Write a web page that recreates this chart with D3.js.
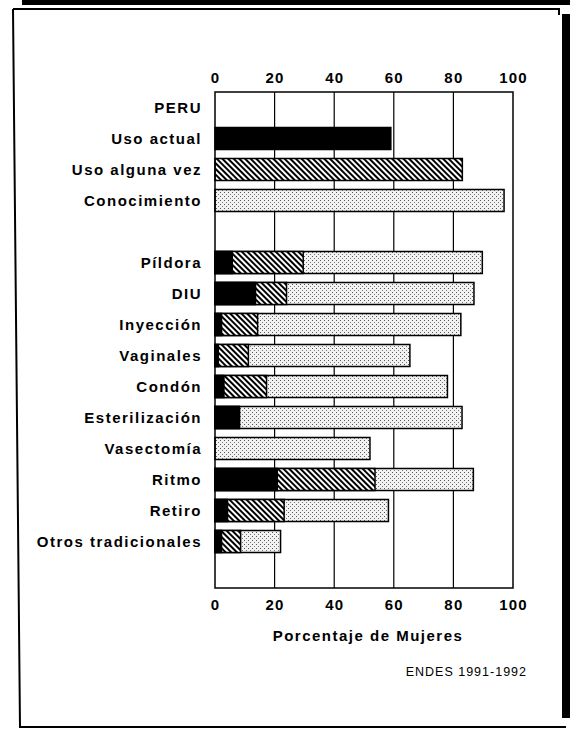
<!DOCTYPE html>
<html>
<head>
<meta charset="utf-8">
<script src="https://cdn.jsdelivr.net/npm/d3@7"></script>
<style>
  body { margin: 0; background: white; }
  svg text { font-family: "Liberation Sans", Arial, sans-serif; }
</style>
</head>
<body>
<script>
// rows of the chart, blank strings are spacer rows
var rowLabels = ["PERU", "Uso actual", "Uso alguna vez", "Conocimiento", "",
  "Píldora", "DIU", "Inyección", "Vaginales", "Condón", "Esterilización",
  "Vasectomía", "Ritmo", "Retiro", "Otros tradicionales", ""];

// summary rows for Peru
var resumen = ["Uso actual", "Uso alguna vez", "Conocimiento"];
var resumenValores = [59, 83, 97];

// by method: current use, ever used, knowledge (percent of women)
var metodos = ["Píldora", "DIU", "Inyección", "Vaginales", "Condón", "Esterilización",
  "Vasectomía", "Ritmo", "Retiro", "Otros tradicionales"];
var usoActual = [5.8, 13.6, 2.2, 1.1, 3.0, 8.2, 0, 20.9, 4.2, 2.2];
var usoAlgunaVez = [29.6, 24.0, 14.3, 11.2, 17.3, 8.2, 0, 53.7, 23.2, 8.6];
var conocimiento = [89.7, 86.9, 82.5, 65.4, 78.0, 82.9, 52.0, 86.7, 58.2, 22.0];

var ticks = [0, 20, 40, 60, 80, 100];

var W = 570, H = 730;
var plot = {left: 215, right: 513, top: 92, bottom: 588};

var svg = d3.select("body").append("svg")
  .attr("width", W)
  .attr("height", H);

// patterns
var defs = svg.append("defs");
var hatch = defs.append("pattern")
  .attr("id", "hatch")
  .attr("patternUnits", "userSpaceOnUse")
  .attr("width", 4).attr("height", 4)
  .attr("patternTransform", "rotate(-45)");
hatch.append("rect").attr("width", 4).attr("height", 4).attr("fill", "white");
hatch.append("rect").attr("width", 2).attr("height", 4).attr("fill", "black");

var dots = defs.append("pattern")
  .attr("id", "dots")
  .attr("patternUnits", "userSpaceOnUse")
  .attr("width", 4).attr("height", 4);
dots.append("rect").attr("width", 4).attr("height", 4).attr("fill", "#f2f2f2");
dots.append("rect").attr("x", 0).attr("y", 0).attr("width", 1).attr("height", 1).attr("fill", "#555");
dots.append("rect").attr("x", 2).attr("y", 2).attr("width", 1).attr("height", 1).attr("fill", "#777");

// page frame (scanned look)
svg.append("rect").attr("x", 22).attr("y", 0).attr("width", 548).attr("height", 5).attr("fill", "black");
svg.append("rect").attr("x", 562).attr("y", 14).attr("width", 8).attr("height", 704).attr("fill", "black");
svg.append("path")
  .attr("d", "M13,9 L559,9 L559,15 M13,9 L20,727 L566,727")
  .attr("fill", "none")
  .attr("stroke", "black")
  .attr("stroke-width", 2);

var x = d3.scaleLinear().domain([0, 100]).range([plot.left, plot.right]);
var y = d3.scaleBand()
  .domain(d3.range(rowLabels.length))
  .range([plot.top, plot.bottom])
  .paddingInner(0.29)
  .paddingOuter(0.145);

var rowIndex = function(name) { return rowLabels.indexOf(name); };

// grid lines
svg.append("g").selectAll("line")
  .data(ticks.slice(1, -1))
  .enter().append("line")
  .attr("x1", function(d) { return x(d); })
  .attr("x2", function(d) { return x(d); })
  .attr("y1", plot.top)
  .attr("y2", plot.bottom)
  .attr("stroke", "black")
  .attr("stroke-width", 1.2);

// bars
var bars = svg.append("g");
var barStyle = function(sel) {
  sel.attr("stroke", "black").attr("stroke-width", 1.5);
};

var fills = ["black", "url(#hatch)", "url(#dots)"];
resumen.forEach(function(name, i) {
  bars.append("rect")
    .attr("x", x(0))
    .attr("y", y(rowIndex(name)))
    .attr("width", x(resumenValores[i]) - x(0))
    .attr("height", y.bandwidth())
    .attr("fill", fills[i])
    .call(barStyle);
});

metodos.forEach(function(name, i) {
  var layers = [[conocimiento[i], "url(#dots)"], [usoAlgunaVez[i], "url(#hatch)"], [usoActual[i], "black"]];
  layers.forEach(function(l) {
    if (l[0] <= 0) return;
    bars.append("rect")
      .attr("x", x(0))
      .attr("y", y(rowIndex(name)))
      .attr("width", x(l[0]) - x(0))
      .attr("height", y.bandwidth())
      .attr("fill", l[1])
      .call(barStyle);
  });
});

// plot frame
svg.append("rect")
  .attr("x", plot.left).attr("y", plot.top)
  .attr("width", plot.right - plot.left)
  .attr("height", plot.bottom - plot.top)
  .attr("fill", "none")
  .attr("stroke", "black")
  .attr("stroke-width", 1.5);

// axes
var styleAxis = function(g) {
  g.select(".domain").remove();
  g.selectAll("text")
    .attr("font-family", "Liberation Sans, Arial, sans-serif")
    .attr("font-weight", "bold")
    .attr("font-size", 15)
    .attr("letter-spacing", 1.2)
    .attr("fill", "black");
};
svg.append("g")
  .attr("transform", "translate(0," + plot.top + ")")
  .call(d3.axisTop(x).tickValues(ticks).tickSize(0).tickPadding(9))
  .call(styleAxis);
svg.append("g")
  .attr("transform", "translate(0," + plot.bottom + ")")
  .call(d3.axisBottom(x).tickValues(ticks).tickSize(0).tickPadding(11))
  .call(styleAxis);

// row labels
svg.append("g").selectAll("text")
  .data(rowLabels.filter(function(d) { return d !== ""; }))
  .enter().append("text")
  .attr("x", 202)
  .attr("y", function(d) { return y(rowIndex(d)) + y.bandwidth() / 2; })
  .attr("dy", "0.35em")
  .attr("text-anchor", "end")
  .attr("font-weight", "bold")
  .attr("font-size", 15)
  .attr("letter-spacing", 1.5)
  .text(function(d) { return d; });

svg.append("text")
  .attr("x", (plot.left + plot.right) / 2 + 4)
  .attr("y", 641)
  .attr("text-anchor", "middle")
  .attr("font-weight", "bold")
  .attr("font-size", 15)
  .attr("letter-spacing", 1.5)
  .text("Porcentaje de Mujeres");

svg.append("text")
  .attr("x", 527)
  .attr("y", 676)
  .attr("text-anchor", "end")
  .attr("font-size", 12.5)
  .attr("letter-spacing", 1)
  .text("ENDES 1991-1992");
</script>
</body>
</html>
